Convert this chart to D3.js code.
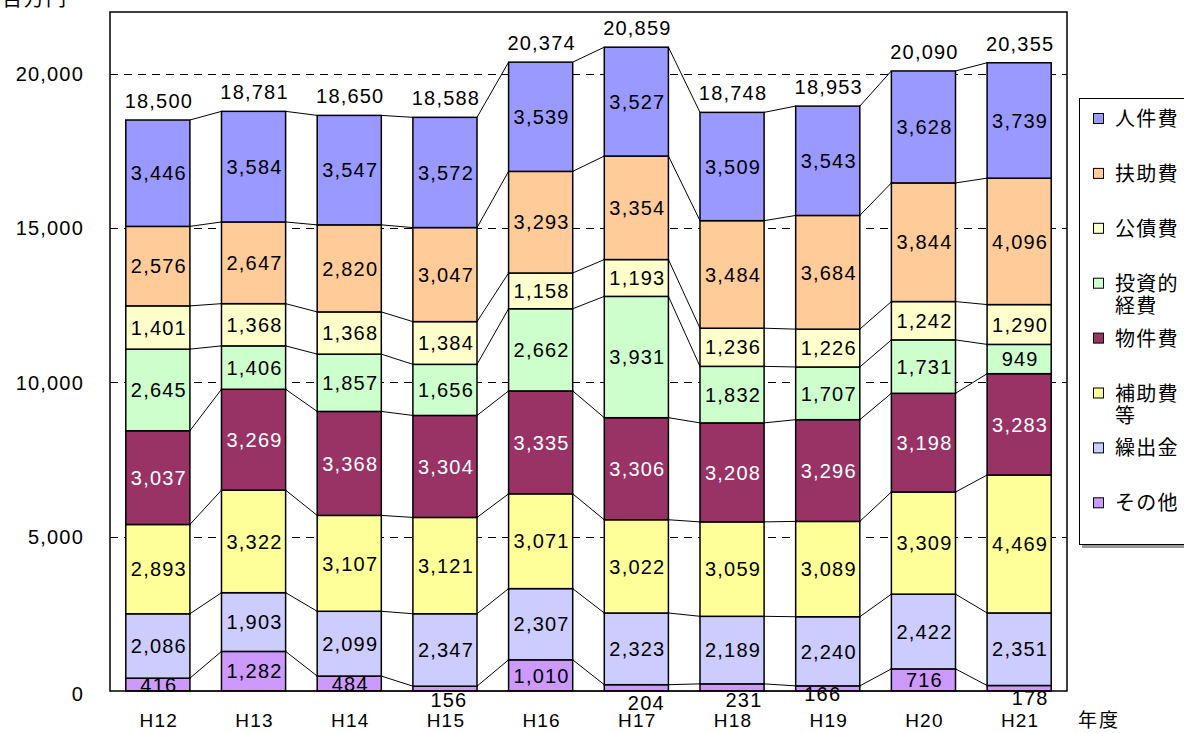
<!DOCTYPE html>
<html>
<head>
<meta charset="utf-8">
<script src="https://cdn.jsdelivr.net/npm/d3@7"></script>
<style>
  html, body { margin: 0; padding: 0; background: #fff; }
  svg { display: block; }
  .num { font-family: "Liberation Sans", Arial, sans-serif; }
  .jp { font-family: "Noto Sans CJK JP", "Noto Sans CJK SC", sans-serif; }
</style>
</head>
<body>
<svg id="chart" width="1184" height="733"></svg>
<script>
// Fiscal years (Heisei)
const categories = ["H12", "H13", "H14", "H15", "H16", "H17", "H18", "H19", "H20", "H21"];

// Expenditure by type, 百万円 (stacked bottom to top)
const sonota      = [416, 1282, 484, 156, 1010, 204, 231, 166, 716, 178];      // その他
const kuridashi   = [2086, 1903, 2099, 2347, 2307, 2323, 2189, 2240, 2422, 2351]; // 繰出金
const hojo        = [2893, 3322, 3107, 3121, 3071, 3022, 3059, 3089, 3309, 4469]; // 補助費等
const bukken      = [3037, 3269, 3368, 3304, 3335, 3306, 3208, 3296, 3198, 3283]; // 物件費
const toushi      = [2645, 1406, 1857, 1656, 2662, 3931, 1832, 1707, 1731, 949];  // 投資的経費
const kousai      = [1401, 1368, 1368, 1384, 1158, 1193, 1236, 1226, 1242, 1290]; // 公債費
const fujo        = [2576, 2647, 2820, 3047, 3293, 3354, 3484, 3684, 3844, 4096]; // 扶助費
const jinken      = [3446, 3584, 3547, 3572, 3539, 3527, 3509, 3543, 3628, 3739]; // 人件費

// Totals printed above each column
const totals = [18500, 18781, 18650, 18588, 20374, 20859, 18748, 18953, 20090, 20355];

// Value axis ticks
const yTicks = [0, 5000, 10000, 15000, 20000];

// Series definitions, bottom of stack first
const series = [
  { key: "sonota",    values: sonota,    legend: ["その他"],          fill: "#CC99FF", text: "#000" },
  { key: "kuridashi", values: kuridashi, legend: ["繰出金"],          fill: "#CCCCFF", text: "#000" },
  { key: "hojo",      values: hojo,      legend: ["補助費", "等"],     fill: "#FFFF99", text: "#000" },
  { key: "bukken",    values: bukken,    legend: ["物件費"],          fill: "#993366", text: "#fff" },
  { key: "toushi",    values: toushi,    legend: ["投資的", "経費"],   fill: "#CCFFCC", text: "#000" },
  { key: "kousai",    values: kousai,    legend: ["公債費"],          fill: "#FFFFCC", text: "#000" },
  { key: "fujo",      values: fujo,      legend: ["扶助費"],          fill: "#FFCC99", text: "#000" },
  { key: "jinken",    values: jinken,    legend: ["人件費"],          fill: "#9999FF", text: "#000" }
];

// Placement tweaks for labels of very thin segments drawn under the axis
const thinLabelShift = { H15: [3, 0], H17: [9, 3], H18: [11, 0], H19: [-6, -6], H21: [10, -2] };

const rows = categories.map((c, i) => {
  const r = { cat: c };
  series.forEach(s => { r[s.key] = s.values[i]; });
  return r;
});

const keys = series.map(s => s.key);
const stacked = d3.stack().keys(keys)(rows);

const svg = d3.select("#chart");
const plot = { left: 110, right: 1067, top: 12, bottom: 691 };

const x = d3.scaleBand()
  .domain(categories)
  .range([plot.left, plot.right])
  .paddingInner(0.33)
  .paddingOuter(0.165);

const y = d3.scaleLinear()
  .domain([0, 22000])
  .range([plot.bottom, plot.top]);

const fmt = d3.format(",");
const bw = x.bandwidth();
const numSize = 20;
const numSpacing = "1.2px";

// Plot background
svg.append("rect")
  .attr("x", plot.left).attr("y", plot.top)
  .attr("width", plot.right - plot.left).attr("height", plot.bottom - plot.top)
  .attr("fill", "#fff");

// Dashed gridlines
svg.append("g")
  .selectAll("line")
  .data(yTicks.filter(d => d > 0))
  .join("line")
  .attr("x1", plot.left).attr("x2", plot.right)
  .attr("y1", d => Math.round(y(d)) + 0.5).attr("y2", d => Math.round(y(d)) + 0.5)
  .attr("stroke", "#000")
  .attr("stroke-width", 1)
  .attr("stroke-dasharray", "8,6");

// Connector lines between adjacent columns at every stack boundary
const boundaries = [];
for (let i = 0; i < categories.length - 1; i++) {
  const a = categories[i], b = categories[i + 1];
  boundaries.push({ v0: 0, v1: 0, a, b });
  stacked.forEach(layer => {
    boundaries.push({ v0: layer[i][1], v1: layer[i + 1][1], a, b });
  });
}
svg.append("g")
  .selectAll("line")
  .data(boundaries)
  .join("line")
  .attr("x1", d => x(d.a) + bw)
  .attr("x2", d => x(d.b))
  .attr("y1", d => y(d.v0))
  .attr("y2", d => y(d.v1))
  .attr("stroke", "#000")
  .attr("stroke-width", 1);

// Stacked columns
const layerG = svg.append("g")
  .selectAll("g")
  .data(stacked)
  .join("g")
  .attr("fill", (d, i) => series[i].fill);

layerG.selectAll("rect")
  .data(d => d.map(p => ({ p, cat: p.data.cat })))
  .join("rect")
  .attr("x", d => x(d.cat))
  .attr("y", d => y(d.p[1]))
  .attr("width", bw)
  .attr("height", d => y(d.p[0]) - y(d.p[1]))
  .attr("stroke", "#000")
  .attr("stroke-width", 1.5);

// Segment value labels
const labelG = svg.append("g").attr("class", "num")
  .attr("font-size", numSize)
  .attr("letter-spacing", numSpacing)
  .attr("text-anchor", "middle");

stacked.forEach((layer, li) => {
  layer.forEach((p, i) => {
    const cat = categories[i];
    const h = y(p[0]) - y(p[1]);
    let cx = x(cat) + bw / 2 + 1;
    let cy = (y(p[0]) + y(p[1])) / 2;
    if (h < 8) {
      const sh = thinLabelShift[cat] || [0, 0];
      cx += sh[0];
      cy = plot.bottom + 9 + sh[1];
    }
    labelG.append("text")
      .attr("x", cx)
      .attr("y", cy)
      .attr("dy", "0.36em")
      .attr("fill", h < 8 ? "#000" : series[li].text)
      .text(fmt(p[1] - p[0]));
  });
});

// Totals above columns
svg.append("g").attr("class", "num")
  .attr("font-size", numSize)
  .attr("letter-spacing", numSpacing)
  .attr("text-anchor", "middle")
  .selectAll("text")
  .data(categories)
  .join("text")
  .attr("x", d => x(d) + bw / 2 + 1)
  .attr("y", (d, i) => y(totals[i]) - 12)
  .text((d, i) => fmt(totals[i]));

// Plot frame
svg.append("rect")
  .attr("x", plot.left).attr("y", plot.top)
  .attr("width", plot.right - plot.left).attr("height", plot.bottom - plot.top)
  .attr("fill", "none")
  .attr("stroke", "#000")
  .attr("stroke-width", 1.5);

// Value axis labels
svg.append("g").attr("class", "num")
  .attr("font-size", numSize)
  .attr("letter-spacing", numSpacing)
  .attr("text-anchor", "end")
  .selectAll("text")
  .data(yTicks)
  .join("text")
  .attr("x", 84)
  .attr("y", d => y(d) + (d === 0 ? 3 : 0))
  .attr("dy", "0.36em")
  .text(d => fmt(d));

// Category axis labels
svg.append("g").attr("class", "num")
  .attr("font-size", 19)
  .attr("letter-spacing", "1.2px")
  .attr("text-anchor", "middle")
  .selectAll("text")
  .data(categories)
  .join("text")
  .attr("x", d => x(d) + bw / 2 + 1)
  .attr("y", 727)
  .text(d => d);

// Axis titles
svg.append("text").attr("class", "jp")
  .attr("x", 2).attr("y", 6)
  .attr("font-size", 20)
  .attr("letter-spacing", "2px")
  .text("百万円");

svg.append("text").attr("class", "jp")
  .attr("x", 1078).attr("y", 727)
  .attr("font-size", 19)
  .attr("letter-spacing", "2px")
  .text("年度");

// Legend
const legend = svg.append("g");
legend.append("rect")
  .attr("x", 1082).attr("y", 101)
  .attr("width", 130).attr("height", 447)
  .attr("fill", "#999");
legend.append("rect")
  .attr("x", 1079.5).attr("y", 98.5)
  .attr("width", 130).attr("height", 446)
  .attr("fill", "#fff")
  .attr("stroke", "#000")
  .attr("stroke-width", 1);

const legendItems = series.slice().reverse();
const item = legend.selectAll("g.item")
  .data(legendItems)
  .join("g")
  .attr("class", "item")
  .attr("transform", (d, i) => `translate(0, ${119 + i * 54.9})`);

item.append("rect")
  .attr("x", 1093.5).attr("y", -5.5)
  .attr("width", 10).attr("height", 10)
  .attr("fill", d => d.fill)
  .attr("stroke", "#000")
  .attr("stroke-width", 1);

item.append("text").attr("class", "jp")
  .attr("x", 1115)
  .attr("font-size", 20)
  .attr("letter-spacing", "1.2px")
  .selectAll("tspan")
  .data(d => d.legend)
  .join("tspan")
  .attr("x", 1115)
  .attr("y", (d, i) => 7 + i * 22.5)
  .text(d => d);
</script>
</body>
</html>
